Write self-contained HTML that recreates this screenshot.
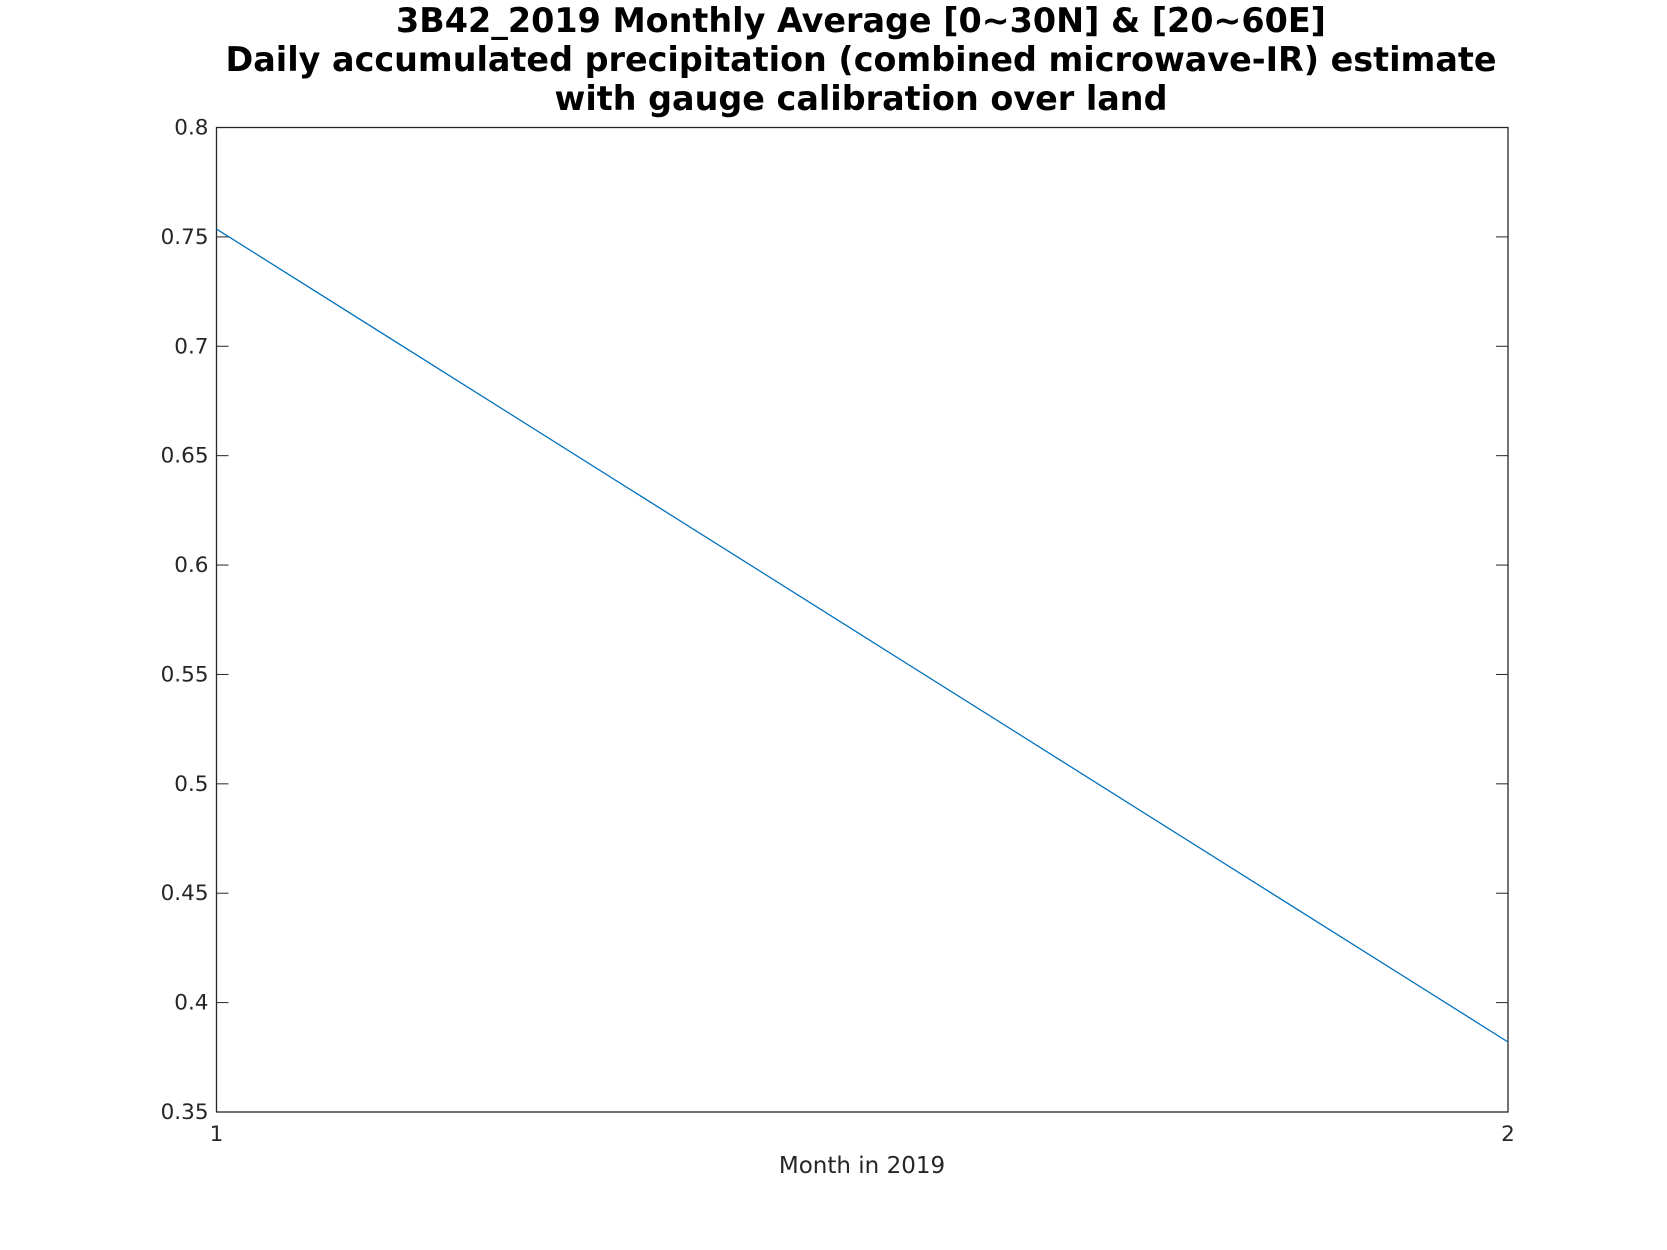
<!DOCTYPE html>
<html><head><meta charset="utf-8"><style>
html,body{margin:0;padding:0;background:#fff;}
svg{display:block;}
text{font-family:"DejaVu Sans","Liberation Sans",sans-serif;}
</style></head><body>
<svg id="chart" width="1667" height="1250" viewBox="0 0 1667 1250" xmlns="http://www.w3.org/2000/svg">
<rect width="1667" height="1250" fill="#fff"/>
<g font-weight="bold" font-size="33.4" text-anchor="middle" fill="#000">
<text x="861" y="32">3B42_2019 Monthly Average [0~30N] &amp; [20~60E]</text>
<text x="861" y="71">Daily accumulated precipitation (combined microwave-IR) estimate</text>
<text x="861" y="110">with gauge calibration over land</text>
</g>
<g id="axes"></g>
<text x="862" y="1186" font-size="23" text-anchor="middle" fill="#262626" transform="translate(0,-13)">Month in 2019</text>
</svg>
<script>
const months = [1, 2];
const precip = [0.7536, 0.382];
const yTicks = [0.35, 0.4, 0.45, 0.5, 0.55, 0.6, 0.65, 0.7, 0.75, 0.8];
const yTickLabels = ["0.35","0.4","0.45","0.5","0.55","0.6","0.65","0.7","0.75","0.8"];
const xTicks = [1, 2];
const xTickLabels = ["1","2"];

const L=216.5, R=1508, T=127.5, B=1112;
const xMin=1, xMax=2, yMin=0.35, yMax=0.8;
const sx = v => L + (v - xMin) / (xMax - xMin) * (R - L);
const sy = v => B - (v - yMin) / (yMax - yMin) * (B - T);
const NS="http://www.w3.org/2000/svg";
const g=document.getElementById('axes');
function mk(tag, attrs){const e=document.createElementNS(NS,tag);for(const k in attrs)e.setAttribute(k,attrs[k]);g.appendChild(e);return e;}

yTicks.forEach((v,i)=>{
  const y=sy(v);
  const t1=mk('line',{x1:L,x2:L+12,y1:y,y2:y,stroke:'#262626','stroke-width':1});
  
  
  const t2=mk('line',{x1:R-12,x2:R,y1:y,y2:y,stroke:'#262626','stroke-width':1});
  
  
  const lb=mk('text',{x:L-8,y:y+7,'font-size':21.5,'text-anchor':'end',fill:'#262626'});
  lb.textContent=yTickLabels[i];
  
  
});
xTicks.forEach((v,i)=>{
  const x=sx(v);
  const lb=mk('text',{x:x,y:1141,'font-size':21.5,'text-anchor':'middle',fill:'#262626'});
  lb.textContent=xTickLabels[i];
  
  
});
const frame=mk('rect',{x:L,y:T,width:R-L,height:B-T,fill:'none',stroke:'#262626','stroke-width':1.3});


const pts=months.map((m,i)=>sx(m)+','+sy(precip[i])).join(' ');
const line=mk('polyline',{points:pts,fill:'none',stroke:'#0072BD','stroke-width':1.3});


</script>
</body></html>
